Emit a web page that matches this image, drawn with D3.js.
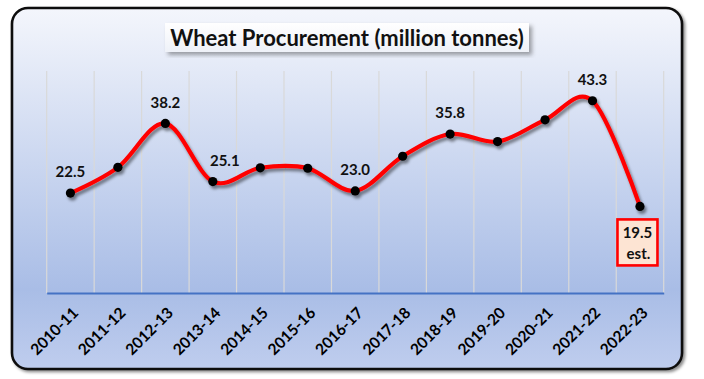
<!DOCTYPE html>
<html>
<head>
<meta charset="utf-8">
<script src="https://cdn.jsdelivr.net/npm/d3@7"></script>
<style>
  body { margin: 0; background: #fff; }
  svg { display: block; font-family: Lato, "Open Sans", sans-serif; }
</style>
</head>
<body>
<svg id="chart" width="704" height="379"></svg>
<script>
// wheat procurement, million tonnes
var years = ["2010-11", "2011-12", "2012-13", "2013-14", "2014-15", "2015-16", "2016-17",
  "2017-18", "2018-19", "2019-20", "2020-21", "2021-22", "2022-23"];
var procurement = [22.5, 28.3, 38.2, 25.1, 28.2, 28.1, 23.0, 30.8, 35.8, 34.1, 39.0, 43.3, 19.5];
var labelled = ["2010-11", "2012-13", "2013-14", "2016-17", "2018-19", "2021-22"];
var estimated = "2022-23";
var titleText = "Wheat Procurement (million tonnes)";

var svg = d3.select("#chart");
var defs = svg.append("defs");

var bg = defs.append("linearGradient").attr("id", "bg")
  .attr("x1", 0).attr("y1", 0).attr("x2", 0).attr("y2", 1);
bg.append("stop").attr("offset", "0%").attr("stop-color", "#f4f6fc");
bg.append("stop").attr("offset", "78%").attr("stop-color", "#a9bde6");
bg.append("stop").attr("offset", "100%").attr("stop-color", "#bfcdee");

var tg = defs.append("linearGradient").attr("id", "tg")
  .attr("x1", 0).attr("y1", 0).attr("x2", 0).attr("y2", 1);
tg.append("stop").attr("offset", "0%").attr("stop-color", "#ffffff");
tg.append("stop").attr("offset", "100%").attr("stop-color", "#eef1f8");

function shadow(id, dx, dy, sd, op) {
  defs.append("filter").attr("id", id)
    .attr("x", "-20%").attr("y", "-20%").attr("width", "140%").attr("height", "140%")
    .append("feDropShadow")
    .attr("dx", dx).attr("dy", dy).attr("stdDeviation", sd)
    .attr("flood-color", "#000").attr("flood-opacity", op);
}
shadow("frameShadow", 2, 2, 1.5, 0.45);
shadow("lineShadow", 2, 3, 1.8, 0.45);
shadow("titleShadow", 3, 3, 2, 0.35);

// outer frame
svg.append("rect")
  .attr("x", 12).attr("y", 8).attr("width", 670).attr("height", 361)
  .attr("rx", 16).attr("ry", 16)
  .attr("fill", "url(#bg)")
  .attr("stroke", "#111").attr("stroke-width", 2.6)
  .attr("filter", "url(#frameShadow)");

var margin = { top: 71, left: 46.7, right: 663.7, bottom: 293 };

var x = d3.scaleBand().domain(years).range([margin.left, margin.right]);
var y = d3.scaleLinear().domain([0, 50]).range([margin.bottom, margin.top]);

// vertical gridlines at category boundaries
var bounds = years.map(function (d) { return x(d); }).concat([margin.right]);
svg.append("g").selectAll("line").data(bounds).enter()
  .append("line")
  .attr("x1", function (d) { return d; }).attr("x2", function (d) { return d; })
  .attr("y1", y(50)).attr("y2", y(0))
  .attr("stroke", "#d9d9d9").attr("stroke-width", 1.2);

// category axis
var xAxis = svg.append("g")
  .attr("transform", "translate(0," + y(0) + ")")
  .call(d3.axisBottom(x).tickSize(0).tickPadding(0));
xAxis.select(".domain").attr("stroke", "#4472c4").attr("stroke-width", 2);
xAxis.selectAll("text")
  .attr("fill", "#000")
  .style("font-size", "15.5px").style("font-weight", "700")
  .style("font-family", "Lato, sans-serif")
  .attr("text-anchor", "end")
  .attr("y", 0).attr("dy", "0.35em")
  .attr("transform", "translate(5,17) rotate(-45)");

// smoothed line
var cx = function (d, i) { return x(years[i]) + x.bandwidth() / 2; };
var line = d3.line()
  .x(cx)
  .y(function (d) { return y(d); })
  .curve(d3.curveCardinal.tension(0));

var series = svg.append("g").attr("filter", "url(#lineShadow)");
series.append("path")
  .datum(procurement)
  .attr("fill", "none")
  .attr("stroke", "#ff0000")
  .attr("stroke-width", 4.2)
  .attr("stroke-linejoin", "round")
  .attr("stroke-linecap", "round")
  .attr("d", line);

series.selectAll("circle").data(procurement).enter()
  .append("circle")
  .attr("cx", cx)
  .attr("cy", function (d) { return y(d); })
  .attr("r", 4.6)
  .attr("fill", "#000");

// data labels
var fmt = d3.format(".1f");
var labels = svg.append("g")
  .style("font-size", "15px").style("font-weight", "700").attr("fill", "#111");
years.forEach(function (yr, i) {
  if (labelled.indexOf(yr) < 0) return;
  labels.append("text")
    .attr("x", cx(null, i) + (yr === "2013-14" ? 12 : 0))
    .attr("y", y(procurement[i]) - 21)
    .attr("dy", "0.35em")
    .attr("text-anchor", "middle")
    .text(fmt(procurement[i]));
});

// estimated value callout
var ei = years.indexOf(estimated);
var ex = cx(null, ei) - 2.5, ey = y(procurement[ei]);
var est = svg.append("g");
est.append("rect")
  .attr("x", ex - 20).attr("y", ey + 13)
  .attr("width", 40).attr("height", 46)
  .attr("fill", "#fde4d3")
  .attr("stroke", "#ff0000").attr("stroke-width", 2.6);
est.append("text")
  .attr("x", ex).attr("y", ey + 26)
  .attr("dy", "0.35em").attr("text-anchor", "middle")
  .style("font-size", "15px").style("font-weight", "700").attr("fill", "#111")
  .text(fmt(procurement[ei]));
est.append("text")
  .attr("x", ex + 1).attr("y", ey + 47)
  .attr("dy", "0.35em").attr("text-anchor", "middle")
  .style("font-size", "15px").style("font-weight", "700").attr("fill", "#111")
  .text("est.");

// title box
svg.append("rect")
  .attr("x", 165).attr("y", 23).attr("width", 364).attr("height", 29)
  .attr("fill", "url(#tg)")
  .attr("filter", "url(#titleShadow)");
svg.append("text")
  .attr("x", 347).attr("y", 38)
  .attr("dy", "0.35em")
  .attr("text-anchor", "middle")
  .style("font-size", "22px").style("font-weight", "700")
  .attr("fill", "#111")
  .text(titleText);
</script>
</body>
</html>
